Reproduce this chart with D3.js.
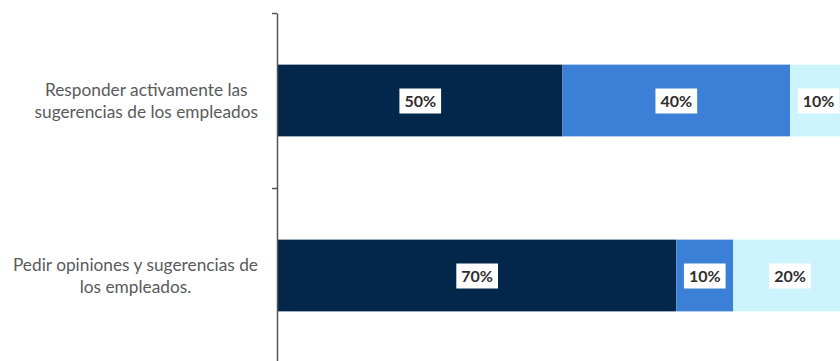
<!DOCTYPE html>
<html>
<head>
<meta charset="utf-8">
<script src="https://cdn.jsdelivr.net/npm/d3@7"></script>
<style>
  html, body { margin: 0; padding: 0; background: #fff; }
  svg { display: block; }
</style>
</head>
<body>
<svg id="chart" width="840" height="361"></svg>
<script>
// Data
const categories = [
  ["Responder activamente las", "sugerencias de los empleados"],
  ["Pedir opiniones y sugerencias de", "los empleados."]
];
const seriesNames = ["s1", "s2", "s3"];
const seriesA = [50, 70];
const seriesB = [40, 10];
const seriesC = [10, 20];
const colors = ["#03274b", "#3b80d6", "#cdf4fd"];

const svg = d3.select("#chart");
const catKeys = categories.map((c, i) => "c" + i);

const x = d3.scaleLinear().domain([0, 100]).range([278, 847]);
const y = d3.scaleBand().domain(catKeys).range([13, 363]).paddingInner(0.59).paddingOuter(0.295);

const rows = catKeys.map((k, i) => ({ key: k, s1: seriesA[i], s2: seriesB[i], s3: seriesC[i] }));
const stack = d3.stack().keys(seriesNames)(rows);

const g = svg.append("g");
stack.forEach((layer, li) => {
  g.selectAll(null).data(layer).enter().append("rect")
    .attr("x", d => x(d[0]))
    .attr("y", d => y(d.data.key))
    .attr("width", d => x(d[1]) - x(d[0]))
    .attr("height", y.bandwidth())
    .attr("fill", colors[li]);
});

// value labels with white boxes
stack.forEach((layer, li) => {
  layer.forEach(d => {
    const cx = (x(d[0]) + x(d[1])) / 2;
    const cy = y(d.data.key) + y.bandwidth() / 2;
    const lg = g.append("g");
    const t = lg.append("text")
      .attr("x", cx).attr("y", cy)
      .attr("text-anchor", "middle").attr("dominant-baseline", "central")
      .attr("font-family", "Lato, 'Open Sans', sans-serif")
      .attr("font-weight", "bold").attr("font-size", 16)
      .attr("fill", "#2e2e2e")
      .text((d[1] - d[0]) + "%");
    const w = t.node().getComputedTextLength();
    lg.insert("rect", "text")
      .attr("x", cx - w / 2 - 5).attr("y", cy - 12)
      .attr("width", w + 10).attr("height", 25)
      .attr("fill", "#fff");
  });
});

// axis with ticks at band boundaries
const bounds = d3.scaleLinear().domain([0, catKeys.length]).range([13, 363]);
svg.append("g")
  .attr("transform", "translate(277,0)")
  .call(d3.axisLeft(bounds).tickValues(d3.range(0, catKeys.length + 1)).tickFormat("").tickSize(5).tickSizeOuter(0))
  .call(a => a.select(".domain").attr("stroke", "#555").attr("stroke-width", 1.5))
  .call(a => a.selectAll(".tick line").attr("stroke", "#555").attr("stroke-width", 1.5));

// category labels
categories.forEach((lines, i) => {
  const cy = y(catKeys[i]) + y.bandwidth() / 2;
  const tg = svg.append("g");
  const texts = lines.map((ln, j) => tg.append("text")
    .attr("y", cy + (j - (lines.length - 1) / 2) * 22)
    .attr("dominant-baseline", "central")
    .attr("text-anchor", "middle")
    .attr("font-family", "Lato, 'Open Sans', sans-serif")
    .attr("font-size", 17.3)
    .attr("fill", "#5a5a5a")
    .text(ln));
  const maxW = d3.max(texts, t => t.node().getComputedTextLength());
  texts.forEach(t => t.attr("x", 258 - maxW / 2));
});
</script>
</body>
</html>
